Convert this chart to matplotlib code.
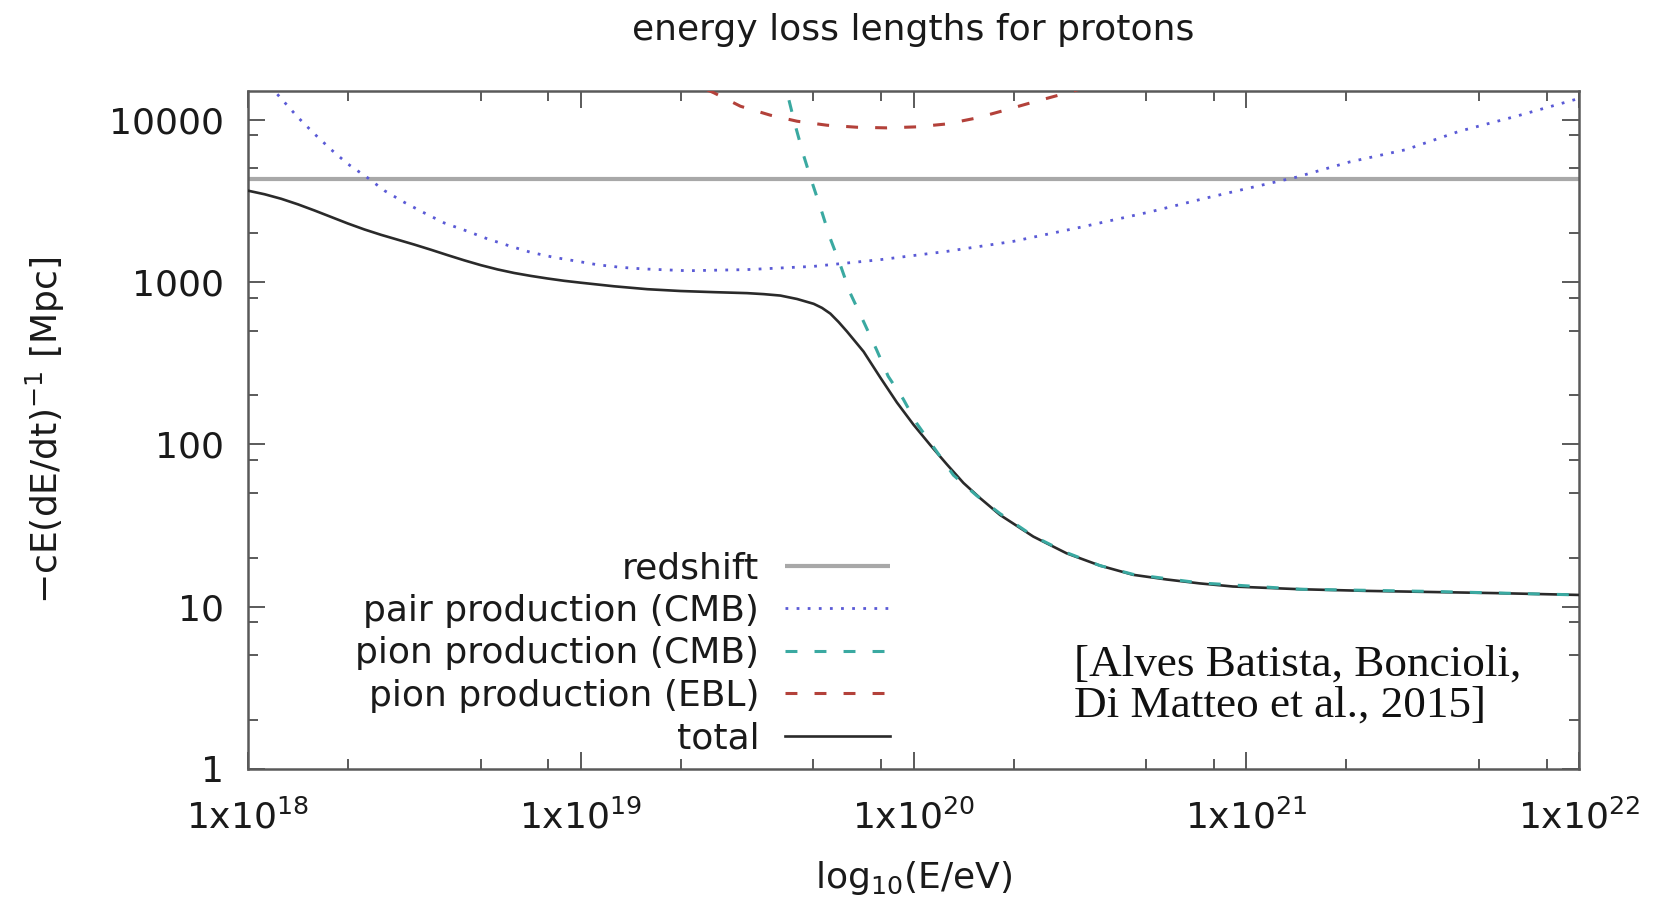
import matplotlib
matplotlib.use("Agg")
import matplotlib.pyplot as plt
from matplotlib.ticker import FixedLocator, NullFormatter

plt.rcParams['font.family'] = ['DejaVu Sans']
plt.rcParams['mathtext.fontset'] = 'dejavusans'

# --- data: energy (log10 E/eV) and energy loss length (Mpc) ---
redshift_logE = [18.0, 22.0]
redshift_L = [4300, 4300]

pair_logE = [18.00, 18.08, 18.15, 18.20, 18.25, 18.30, 18.36, 18.41, 18.47, 18.53,
             18.59, 18.66, 18.72, 18.79, 18.85, 18.92, 18.99, 19.05, 19.12, 19.19,
             19.26, 19.32, 19.50, 19.70, 19.90, 20.10, 20.30, 20.50, 20.71, 20.88,
             21.01, 21.15, 21.31, 21.48, 21.64, 21.81, 22.00]
pair_L = [23000, 14960, 10330, 8150, 6530, 5330, 4375, 3650, 3090, 2660,
          2307, 2051, 1841, 1656, 1521, 1416, 1340, 1276, 1230, 1202,
          1186, 1172, 1191, 1247, 1371, 1542, 1778, 2168, 2698, 3289,
          3793, 4416, 5480, 6530, 8470, 10470, 13500]

pion_cmb_logE = [19.60, 19.619, 19.644, 19.669, 19.694, 19.724, 19.749, 19.779, 19.81,
                 19.849, 19.889, 19.924, 19.969, 20.009, 20.07, 20.12, 20.19, 20.26,
                 20.36, 20.46, 20.56, 20.66, 20.86, 21.16, 21.56, 22.00]
pion_cmb_L = [19500, 14960, 9310, 6080, 4170, 2720, 1870, 1290, 851,
              575, 382, 262, 190, 135, 90, 64.5, 48.2, 37.4,
              27.2, 21.5, 17.9, 15.8, 14.0, 12.8, 12.4, 11.8]

pion_ebl_logE = [19.30, 19.40, 19.48, 19.57, 19.65, 19.74, 19.83, 19.92, 20.01,
                 20.10, 20.19, 20.27, 20.36, 20.45, 20.52]
pion_ebl_L = [18000, 14620, 12080, 10640, 9770, 9230, 8970, 8890, 9020,
              9400, 10230, 11350, 12820, 14390, 15850]

total_logE = [18.00, 18.05, 18.10, 18.15, 18.20, 18.25, 18.30, 18.35, 18.40, 18.45,
              18.50, 18.55, 18.60, 18.65, 18.70, 18.75, 18.80, 18.85, 18.90, 18.95,
              19.00, 19.10, 19.20, 19.30, 19.40, 19.50, 19.55, 19.60, 19.65, 19.70,
              19.725, 19.75, 19.775, 19.80, 19.85, 19.90, 19.95, 20.00, 20.05, 20.10,
              20.15, 20.20, 20.26, 20.36, 20.46, 20.56, 20.66, 20.76, 20.86, 20.96,
              21.16, 21.36, 21.56, 21.76, 22.00]
total_L = [3648, 3467, 3251, 3006, 2754, 2512, 2291, 2104, 1950, 1820,
           1698, 1578, 1462, 1358, 1268, 1194, 1135, 1089, 1050, 1016,
           989, 940, 902, 879, 865, 853, 841, 824, 785, 733,
           692, 638, 566, 495, 372, 258, 181, 132, 99.1, 75.3,
           57.8, 46.6, 36.7, 27.0, 21.3, 17.9, 15.7, 14.7, 13.9, 13.3,
           12.8, 12.5, 12.3, 12.1, 11.8]

x_major = [18, 19, 20, 21, 22]
y_major = [1, 10, 100, 1000, 10000]
y_tick_labels = ['1', '10', '100', '1000', '10000']


def energies(logs):
    return [10.0 ** v for v in logs]


fig = plt.figure(figsize=(16.62, 9.0), dpi=100)
ax = fig.add_axes([0.1492, 0.1456, 0.9501 - 0.1492, 0.8989 - 0.1456])
ax.set_xscale('log')
ax.set_yscale('log')
ax.set_xlim(1e18, 1e22)
ax.set_ylim(1, 15000)

ax.plot(energies(redshift_logE), redshift_L, color='#a8a8a8', lw=3.0,
        solid_capstyle='butt', label='redshift', zorder=2)
ax.plot(energies(pair_logE), pair_L, color='#5a5ad6', lw=2.0,
        linestyle=(0, (1.0, 3.0)), label='pair production (CMB)', zorder=3)
ax.plot(energies(pion_cmb_logE), pion_cmb_L, color='#3aa9a1', lw=2.2,
        linestyle=(0, (3.9, 5.6)), label='pion production (CMB)', zorder=4)
ax.plot(energies(pion_ebl_logE), pion_ebl_L, color='#b3413a', lw=2.2,
        linestyle=(0, (3.9, 5.6)), label='pion production (EBL)', zorder=3)
ax.plot(energies(total_logE), total_L, color='#2a2a2a', lw=1.9,
        label='total', zorder=3)

# axes frame and ticks (inward, mirrored on all sides)
frame_color = '#5a5a5a'
for sp in ax.spines.values():
    sp.set_color(frame_color)
    sp.set_linewidth(1.8)

ax.xaxis.set_major_locator(FixedLocator([10.0 ** e for e in x_major]))
ax.set_xticklabels([r'1x10$^{%d}$' % e for e in x_major])
x_minor = [m * 10.0 ** e for e in x_major[:-1] for m in (2, 5, 8)]
ax.xaxis.set_minor_locator(FixedLocator(x_minor))
ax.xaxis.set_minor_formatter(NullFormatter())

ax.yaxis.set_major_locator(FixedLocator(y_major))
ax.set_yticklabels(y_tick_labels)
y_minor = [m * v for v in y_major for m in (2, 5, 8) if m * v < 15000]
ax.yaxis.set_minor_locator(FixedLocator(y_minor))
ax.yaxis.set_minor_formatter(NullFormatter())

ax.tick_params(which='both', direction='in', top=True, right=True,
               color=frame_color, width=1.4, labelsize=26, labelcolor='#1a1a1a')
ax.tick_params(which='major', length=12)
ax.tick_params(which='minor', length=7)
ax.tick_params(axis='x', which='major', pad=22)
ax.tick_params(axis='y', which='major', pad=17)

ax.set_title('energy loss lengths for protons', fontsize=26, color='#1a1a1a',
             y=1.09, pad=0, va='center')
ax.set_xlabel(r'log$_{10}$(E/eV)', fontsize=26, color='#1a1a1a', va='center')
ax.xaxis.set_label_coords(0.5, -0.161)
ax.set_ylabel(r'$-$cE(dE/dt)$^{-1}$ [Mpc]', fontsize=26, color='#1a1a1a',
              va='center', ha='center')
ax.yaxis.set_label_coords(-0.1525, 0.5)

leg = ax.legend(loc='lower right', bbox_to_anchor=(0.4823, 0.02), frameon=False,
                markerfirst=False, fontsize=26, labelspacing=0.235,
                handlelength=2.9, handletextpad=0.72, borderpad=0.0,
                borderaxespad=0.0)
for t in leg.get_texts():
    t.set_color('#1a1a1a')

ax.text(0.6206, 0.124, '[Alves Batista, Boncioli,\nDi Matteo et al., 2015]',
        transform=ax.transAxes, fontsize=32.5, family=['Liberation Serif'],
        ha='left', va='center', linespacing=1.03, color='#111111')

fig.savefig('out.png', dpi=100)
